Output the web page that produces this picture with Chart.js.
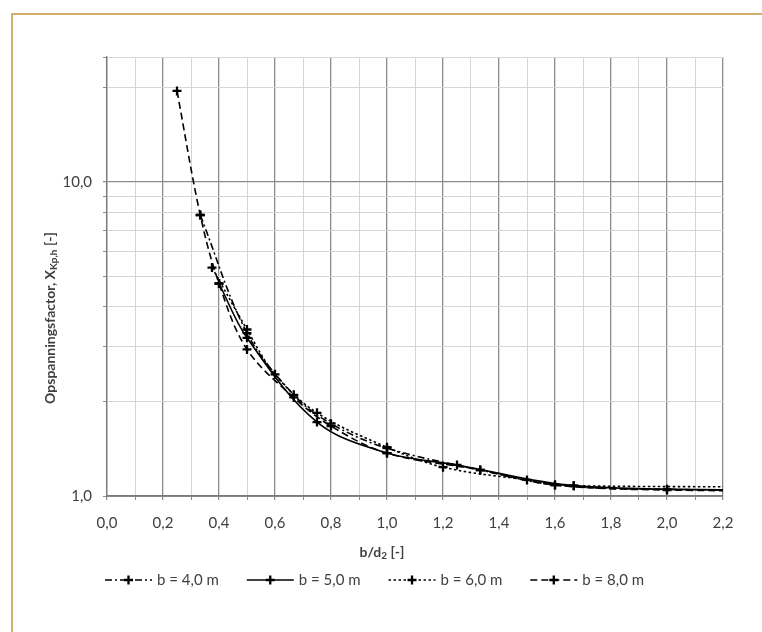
<!DOCTYPE html>
<html>
<head>
<meta charset="utf-8">
<script src="https://cdn.jsdelivr.net/npm/chart.js@4.4.0/dist/chart.umd.min.js"></script>
<style>
  html, body { margin: 0; padding: 0; background: #fff; }
  #frame { position: absolute; left: 11px; top: 13px; width: 760px; height: 630px;
           border-left: 2px solid #d2ad6c; border-top: 2px solid #d2ad6c; }
  #wrap { position: absolute; left: 0; top: 0; width: 762px; height: 632px; }
</style>
</head>
<body>
<div id="frame"></div>
<div id="wrap"><canvas id="myChart" width="762" height="632"></canvas></div>
<script>
// series (x = b/d2, y = opspanningsfactor)
const seriesLabels = ["b = 4,0 m", "b = 5,0 m", "b = 6,0 m", "b = 8,0 m"];

const b4X = [0.333, 0.5, 0.667, 0.8, 1.0, 1.333, 1.6, 2.0, 2.667];
const b4Y = [7.85, 3.3, 2.1, 1.7, 1.42, 1.21, 1.084, 1.05, 1.045];

const b5X = [0.4, 0.5, 0.75, 1.0, 1.25, 1.667, 2.5];
const b5Y = [4.75, 3.19, 1.72, 1.37, 1.256, 1.079, 1.04];

const b6X = [0.375, 0.5, 0.6, 0.75, 1.0, 1.2, 1.5, 1.667, 3.0];
const b6Y = [5.34, 3.39, 2.44, 1.84, 1.43, 1.235, 1.125, 1.078, 1.075];

const b8X = [0.25, 0.333, 0.4, 0.5, 0.667, 0.8, 1.0, 1.333, 1.6, 2.0, 2.667];
const b8Y = [19.5, 7.85, 4.75, 2.93, 2.06, 1.67, 1.37, 1.21, 1.084, 1.045, 1.04];

const yTicks = [1, 2, 3, 4, 5, 6, 7, 8, 9, 10, 20, 25];
const yLabels = { 1: "1,0", 10: "10,0" };

const textColor = "#404040";
const majorGrid = "#8c8c8c";
const minorGrid = "#d6d6d6";

function pts(xs, ys) {
  return xs.map((x, i) => ({ x: x, y: ys[i] }));
}

function isMajorX(v) {
  return Math.round(v * 10) % 2 === 0;
}

const dashes = [[7, 3, 2, 3], [], [2.5, 2.5], [7, 4]];
const allX = [b4X, b5X, b6X, b8X];
const allY = [b4Y, b5Y, b6Y, b8Y];

const datasets = seriesLabels.map((label, i) => ({
  label: label,
  data: pts(allX[i], allY[i]),
  borderColor: "#000",
  backgroundColor: "#000",
  borderWidth: 1.6,
  borderDash: dashes[i],
  pointStyle: "cross",
  pointRadius: 4.5,
  pointBorderWidth: 2.3,
  pointBorderColor: "#000",
  tension: 0.35,
  clip: 0,
}));

// draws text with a subscript part, centred on (0,0) of the current transform
function drawParts(ctx, parts, bold) {
  const w = bold ? "bold " : "";
  const mainFont = w + "14px Lato";
  const subFont = w + "10px Lato";
  let total = 0;
  parts.forEach((p) => {
    ctx.font = p.sub ? subFont : mainFont;
    p.w = ctx.measureText(p.text).width;
    total += p.w;
  });
  let x = -total / 2;
  ctx.textBaseline = "middle";
  ctx.textAlign = "left";
  parts.forEach((p) => {
    ctx.font = p.sub ? subFont : mainFont;
    ctx.fillText(p.text, x, p.sub ? 4 : 0);
    x += p.w;
  });
}

const extras = {
  id: "extras",
  afterDraw(chart) {
    const ctx = chart.ctx;
    ctx.save();
    ctx.fillStyle = textColor;

    // y axis title
    ctx.save();
    ctx.translate(50, 318);
    ctx.rotate(-Math.PI / 2);
    drawParts(ctx, [
      { text: "Opspanningsfactor, X" },
      { text: "Kp,h", sub: true },
      { text: " [-]" },
    ], true);
    ctx.restore();

    // x axis title
    ctx.save();
    ctx.translate(382, 552);
    drawParts(ctx, [
      { text: "b/d" },
      { text: "2", sub: true },
      { text: " [-]" },
    ], true);
    ctx.restore();

    // legend
    let x = 105;
    const y = 580;
    ctx.font = "15px Lato";
    ctx.textBaseline = "middle";
    chart.data.datasets.forEach((ds) => {
      ctx.strokeStyle = "#000";
      ctx.lineWidth = 1.6;
      ctx.setLineDash(ds.borderDash);
      ctx.beginPath();
      ctx.moveTo(x, y);
      ctx.lineTo(x + 47, y);
      ctx.stroke();
      ctx.setLineDash([]);
      ctx.lineWidth = 2.3;
      ctx.beginPath();
      ctx.moveTo(x + 23.5 - 4.5, y);
      ctx.lineTo(x + 23.5 + 4.5, y);
      ctx.moveTo(x + 23.5, y - 4.5);
      ctx.lineTo(x + 23.5, y + 4.5);
      ctx.stroke();
      ctx.fillStyle = textColor;
      ctx.fillText(ds.label, x + 52, y);
      x += 52 + ctx.measureText(ds.label).width + 28;
    });
    ctx.restore();
  },
};

const chart = new Chart(document.getElementById("myChart"), {
  type: "line",
  data: { datasets: datasets },
  plugins: [extras],
  options: {
    responsive: false,
    animation: false,
    layout: { padding: { left: 0, top: 57, right: 39, bottom: 96 } },
    plugins: { legend: { display: false }, tooltip: { enabled: false } },
    scales: {
      x: {
        type: "linear",
        min: 0,
        max: 2.2,
        afterFit: (s) => { s.height = 40; },
        border: { color: "#7a7a7a", width: 1.3 },
        grid: {
          color: (c) => (isMajorX(c.tick.value) ? majorGrid : minorGrid),
          lineWidth: (c) => (isMajorX(c.tick.value) ? 1.3 : 1),
          tickColor: "#8c8c8c",
          tickLength: 4,
        },
        ticks: {
          stepSize: 0.1,
          autoSkip: false,
          maxRotation: 0,
          padding: 14,
          color: textColor,
          font: { family: "Lato", size: 15 },
          callback: (v) => (isMajorX(v) ? v.toFixed(1).replace(".", ",") : ""),
        },
      },
      y: {
        type: "logarithmic",
        min: 1,
        max: 25,
        afterFit: (s) => { s.width = 107; },
        afterBuildTicks: (s) => { s.ticks = yTicks.map((v) => ({ value: v })); },
        border: { color: "#7a7a7a", width: 1.3 },
        grid: {
          color: (c) => (c.tick.value === 1 || c.tick.value === 10 ? majorGrid : minorGrid),
          lineWidth: (c) => (c.tick.value === 10 ? 1.3 : 1),
          tickColor: "#8c8c8c",
          tickLength: 4,
        },
        ticks: {
          autoSkip: false,
          padding: 11,
          color: textColor,
          font: { family: "Lato", size: 15 },
          callback: (v) => yLabels[v] || "",
        },
      },
    },
  },
});
</script>
</body>
</html>
